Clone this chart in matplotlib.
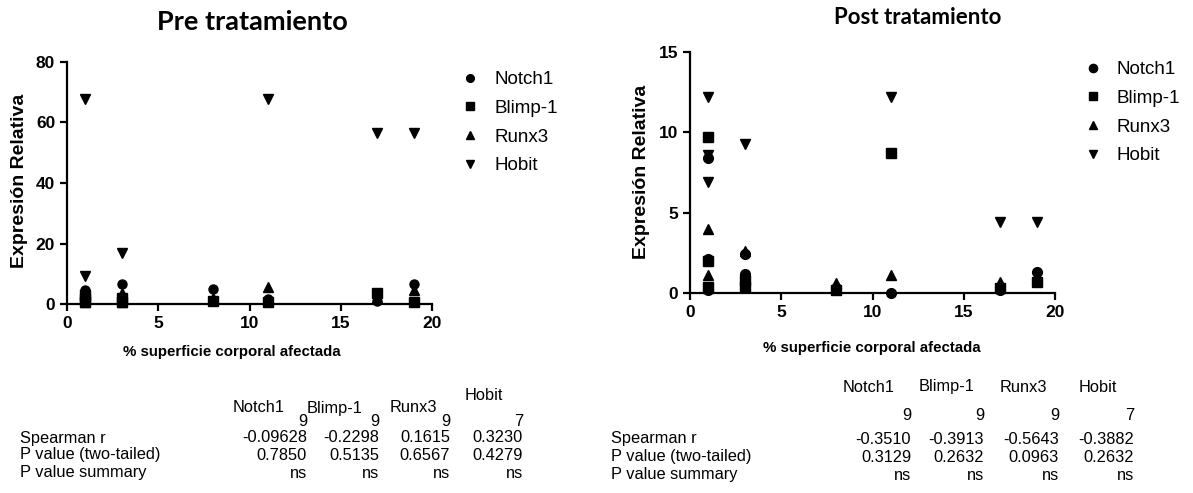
import matplotlib
matplotlib.use("Agg")
import matplotlib.pyplot as plt

plt.rcParams['font.family'] = ['Liberation Sans', 'DejaVu Sans']

# % body surface affected, one value per patient
x_all = [1, 1, 1, 3, 3, 8, 11, 17, 19]
x_hobit = [1, 1, 1, 3, 11, 17, 19]

# pre treatment
notch_pre = [4.5, 2.5, 1.0, 6.5, 1.0, 4.8, 1.5, 1.0, 6.5]
blimp_pre = [3.0, 1.5, 0.5, 2.0, 0.5, 1.0, 0.5, 3.5, 0.5]
runx_pre = [4.0, 2.0, 0.8, 3.5, 0.5, 2.0, 5.5, 2.0, 4.5]
hobit_pre = [67.7, 9.3, 3.0, 16.8, 67.7, 56.5, 56.5]

# post treatment
notch_post = [8.4, 2.1, 0.2, 2.4, 1.2, 0.3, 0.0, 0.2, 1.3]
blimp_post = [9.7, 2.0, 0.4, 0.8, 0.4, 0.2, 8.7, 0.3, 0.7]
runx_post = [4.0, 1.1, 0.3, 2.6, 0.5, 0.6, 1.1, 0.7, 0.9]
hobit_post = [12.2, 8.6, 6.9, 9.3, 12.2, 4.4, 4.4]

genes = ["Notch1", "Blimp-1", "Runx3", "Hobit"]
markers = ["o", "s", "^", "v"]

# statistics tables
row_labels = ["", "Spearman r", "P value (two-tailed)", "P value summary"]
stats_pre = [["9", "9", "9", "7"],
             ["-0.09628", "-0.2298", "0.1615", "0.3230"],
             ["0.7850", "0.5135", "0.6567", "0.4279"],
             ["ns", "ns", "ns", "ns"]]
stats_post = [["9", "9", "9", "7"],
              ["-0.3510", "-0.3913", "-0.5643", "-0.3882"],
              ["0.3129", "0.2632", "0.0963", "0.2632"],
              ["ns", "ns", "ns", "ns"]]

W, H = 1193, 493
fig = plt.figure(figsize=(W / 100, H / 100), dpi=100)


def px(x, y):
    return x / W, 1 - y / H


def make_panel(rect, series, ymax, ystep, title, title_xy, title_size, xlabel_xy,
               ylabel_xy, legend_xy, lab_x, head_x, head_y, num_x, row_y, stats, ms):
    ax = fig.add_axes(rect)
    for i, (vals, m) in enumerate(zip(series, markers)):
        xs = x_hobit if i == 3 else x_all
        ax.plot(xs, vals, linestyle="none", marker=m, color="black", markersize=ms,
                clip_on=False, label=genes[i])
    ax.set_xlim(0, 20)
    ax.set_ylim(0, ymax)
    ax.set_xticks(range(0, 21, 5))
    ax.set_yticks(range(0, ymax + 1, ystep))
    for s in ["top", "right"]:
        ax.spines[s].set_visible(False)
    for s in ["left", "bottom"]:
        ax.spines[s].set_linewidth(1.6)
    ax.tick_params(width=1.6, length=5, labelsize=12.5)
    for lab in ax.get_xticklabels() + ax.get_yticklabels():
        lab.set_fontweight("bold")

    fig.text(*px(*ylabel_xy), "Expresión Relativa", rotation=90, ha="center",
             va="center", fontsize=14, fontweight="bold")
    fig.text(*px(*title_xy), title, ha="center", va="center", fontsize=title_size,
             fontweight="bold", family=["Lato", "DejaVu Sans"])
    fig.text(*px(*xlabel_xy), "% superficie corporal afectada", ha="center",
             va="center", fontsize=10.8, fontweight="bold")

    ax.legend(loc="upper left", bbox_to_anchor=px(*legend_xy),
              bbox_transform=fig.transFigure, frameon=False, fontsize=13.5,
              handletextpad=1.0, labelspacing=0.62, markerscale=0.85,
              handlelength=0.6, borderaxespad=0, borderpad=0)

    # table
    for j, g in enumerate(genes):
        fig.text(*px(head_x[j], head_y[j]), g, ha="center", va="center", fontsize=11.8)
    for r, lab in enumerate(row_labels):
        fig.text(*px(lab_x, row_y[r]), lab, ha="left", va="center", fontsize=11.8)
        for j in range(4):
            fig.text(*px(num_x[j], row_y[r]), stats[r][j], ha="right", va="center",
                     fontsize=11.8)
    return ax


make_panel([67 / W, 1 - 304 / H, 365 / W, 242 / H],
           [notch_pre, blimp_pre, runx_pre, hobit_pre], 80, 20,
           "Pre tratamiento", (252, 22), 19.5, (232, 352), (20, 181), (464, 71),
           20, [259, 335, 413, 484], [408, 408, 408, 396],
           [307, 379, 450, 523], [421, 438, 455, 473], stats_pre, 6.5)

make_panel([690 / W, 1 - 293 / H, 365 / W, 241 / H],
           [notch_post, blimp_post, runx_post, hobit_post], 15, 5,
           "Post tratamiento", (918, 18), 16, (872, 348), (642, 172), (1087, 61),
           611, [869, 946, 1023, 1098], [387, 387, 387, 387],
           [911, 984, 1059, 1134], [415, 439, 457, 475], stats_post, 7)

fig.savefig("out.png", dpi=100)
